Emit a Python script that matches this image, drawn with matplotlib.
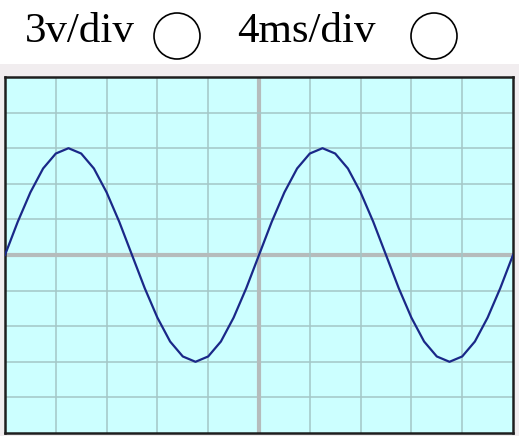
import matplotlib
matplotlib.use("Agg")
import matplotlib.pyplot as plt
from matplotlib.patches import Circle, Rectangle

# Scope labels
volt_label = "3v/div"
time_label = "4ms/div"

# Trace samples (in divisions)
time_div = [0.0, 0.25, 0.5, 0.75, 1.0, 1.25, 1.5, 1.75, 2.0, 2.25, 2.5, 2.75,
            3.0, 3.25, 3.5, 3.75, 4.0, 4.25, 4.5, 4.75, 5.0, 5.25, 5.5, 5.75,
            6.0, 6.25, 6.5, 6.75, 7.0, 7.25, 7.5, 7.75, 8.0, 8.25, 8.5, 8.75,
            9.0, 9.25, 9.5, 9.75, 10.0]
volt_div = [0.0, 0.93, 1.76, 2.43, 2.85, 3.0, 2.85, 2.43, 1.76, 0.93, 0.0,
            -0.93, -1.76, -2.43, -2.85, -3.0, -2.85, -2.43, -1.76, -0.93, 0.0,
            0.93, 1.76, 2.43, 2.85, 3.0, 2.85, 2.43, 1.76, 0.93, 0.0,
            -0.93, -1.76, -2.43, -2.85, -3.0, -2.85, -2.43, -1.76, -0.93, 0.0]

W, H = 519, 436
fig = plt.figure(figsize=(W / 100, H / 100), dpi=100)
fig.patch.set_facecolor("white")

# Overlay axes in pixel coordinates
ov = fig.add_axes([0, 0, 1, 1])
ov.set_xlim(0, W)
ov.set_ylim(H, 0)
ov.axis("off")
ov.add_patch(Rectangle((0, 64), W, H - 64, facecolor="#f1edef", edgecolor="none"))
ov.text(25, 42, volt_label, fontsize=31, family="Liberation Serif", va="baseline", ha="left")
ov.text(237, 42, time_label, fontsize=31, family="Liberation Serif", va="baseline", ha="left")
ov.add_patch(Circle((177, 36), 23, facecolor="none", edgecolor="black", lw=1.2))
ov.add_patch(Circle((434, 36), 23, facecolor="none", edgecolor="black", lw=1.2))

# Scope screen
left, right, top, bottom = 5, 513, 77, 433
ax = fig.add_axes([left / W, (H - bottom) / H, (right - left) / W, (bottom - top) / H])
ax.set_facecolor("#ccffff")
ax.set_xlim(0, 10)
ax.set_ylim(-5, 5)
for i in range(1, 10):
    c = "#b5bcbc" if i == 5 else "#a3c6c6"
    w = 3.0 if i == 5 else 1.1
    ax.axvline(i, color=c, lw=w, zorder=1)
    ax.axhline(i - 5, color=c, lw=w, zorder=1)
ax.plot(time_div, volt_div, color="#1a2888", lw=1.6, zorder=3)
ax.set_xticks([])
ax.set_yticks([])
for s in ax.spines.values():
    s.set_color("#1e1e1e")
    s.set_linewidth(1.8)

fig.savefig("out.png", dpi=100)
